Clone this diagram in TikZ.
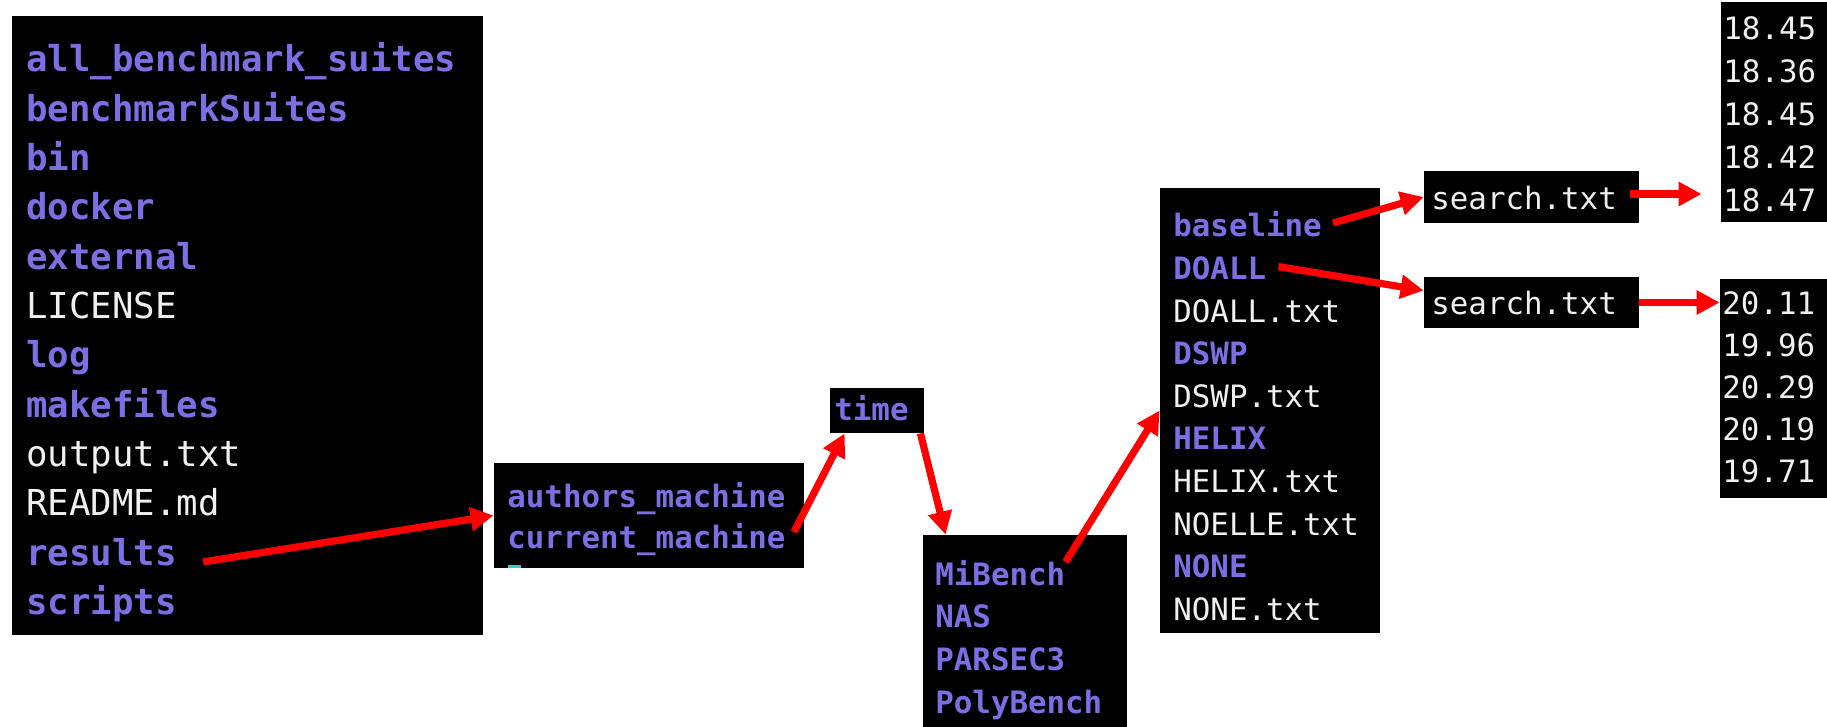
\documentclass[tikz,border=0pt]{standalone}
\usepackage{fontspec}
\setmonofont{DejaVu Sans Mono}
\usetikzlibrary{arrows.meta,fit,calc}

\definecolor{dir purple}{RGB}{124,111,228}
\definecolor{file white}{RGB}{240,240,240}
\definecolor{cursor cyan}{RGB}{64,200,200}
\newcommand\bigtt{\ttfamily\fontsize{17.85}{20}\selectfont}
\newcommand\smalltt{\ttfamily\fontsize{15.4}{18}\selectfont}
\tikzset{
  terminal/.style={fill=black, inner sep=0pt},
  entry/.style={inner sep=0pt, anchor=base west}
  }
\tikzstyle{dir} = [entry, text=dir purple, font=\smalltt\bfseries]
\tikzstyle{txt} = [entry, text=file white, font=\smalltt]
\tikzstyle{big dir} = [entry, text=dir purple, font=\bigtt\bfseries]
\tikzstyle{big txt} = [entry, text=file white, font=\bigtt]
\tikzstyle{red arrow} = [draw, red, line width=3.6pt, -{Triangle[length=11.5pt,width=11.5pt]}]
\def\rootlist{all\_benchmark\_suites/big dir, benchmarkSuites/big dir, bin/big dir, docker/big dir, external/big dir, LICENSE/big txt, log/big dir, makefiles/big dir, output.txt/big txt, README.md/big txt, results/big dir, scripts/big dir}
\def\variants{baseline/dir, DOALL/dir, DOALL.txt/txt, DSWP/dir, DSWP.txt/txt, HELIX/dir, HELIX.txt/txt, NOELLE.txt/txt, NONE/dir, NONE.txt/txt}

\begin{document}
\begin{tikzpicture}[x=0.5pt, y=-0.5pt]
    \useasboundingbox (0,0) rectangle (1827,727);

    % The terminal windows
    \node[terminal, fit={(12,16) (483,635)}] (root) {};
    \node[terminal, fit={(494,463) (804,568)}] (machines) {};
    \node[terminal, fit={(830,388) (924,433)}] (time) {};
    \node[terminal, fit={(923,535) (1127,727)}] (suites) {};
    \node[terminal, fit={(1160,188) (1380,633)}] (variants) {};
    \node[terminal, fit={(1424,171) (1639,223)}] (searchA) {};
    \node[terminal, fit={(1424,277) (1639,328)}] (searchB) {};
    \node[terminal, fit={(1721,2) (1827,222)}] (numsA) {};
    \node[terminal, fit={(1720,279) (1827,498)}] (numsB) {};
    \fill[cursor cyan] (508,565) rectangle (521,568);

    % The listings
    \foreach \txt/\sty [count=\i] in \rootlist
      \node[\sty] (root-\i) at (26, {72+49.3*(\i-1)}) {\txt};
    \foreach \txt [count=\i] in {authors\_machine, current\_machine}
      \node[dir] (mach-\i) at (507, {507+41*(\i-1)}) {\txt};
    \node[dir] (time-1) at (834,421) {time};
    \foreach \txt [count=\i] in {MiBench, NAS, PARSEC3, PolyBench}
      \node[dir] (suite-\i) at (935, {585+42.7*(\i-1)}) {\txt};
    \foreach \txt/\sty [count=\i] in \variants
      \node[\sty] (var-\i) at (1173, {237+42.6*(\i-1)}) {\txt};
    \node[txt] (search-1) at (1431,210) {search.txt};
    \node[txt] (search-2) at (1431,315) {search.txt};
    \foreach \txt [count=\i] in {18.45, 18.36, 18.45, 18.42, 18.47}
      \node[txt] (numA-\i) at (1723, {40+43*(\i-1)}) {\txt};
    \foreach \txt [count=\i] in {20.11, 19.96, 20.29, 20.19, 19.71}
      \node[txt] (numB-\i) at (1722, {315+41.75*(\i-1)}) {\txt};

    % The path down to the numbers
    \draw[red arrow] ($(root-11.base east)+(26,-3)$) -- (machines.west);
    \draw[red arrow] ($(mach-2.base east)+(8,-16)$) -- ($(time.south west)+(15,0)$);
    \draw[red arrow] ($(time.south east)+(-4,0)$) -- ($(suites.north west)+(23,0)$);
    \draw[red arrow] ($(suite-1.base east)+(0,-23)$) -- (variants.west);
    \draw[red arrow] ($(var-1.base east)+(11,-14)$) -- (searchA.west);
    \draw[red arrow] ($(var-2.base east)+(12,-13)$) -- ($(searchB.west)+(0,-12)$);
    \draw[red arrow] ($(searchA.east)+(-9,-3)$) -- ($(searchA.east -| numsA.west)+(-19,-3)$);
    \draw[red arrow] (searchB.east) -- (searchB.east -| numsB.west);
\end{tikzpicture}
\end{document}
